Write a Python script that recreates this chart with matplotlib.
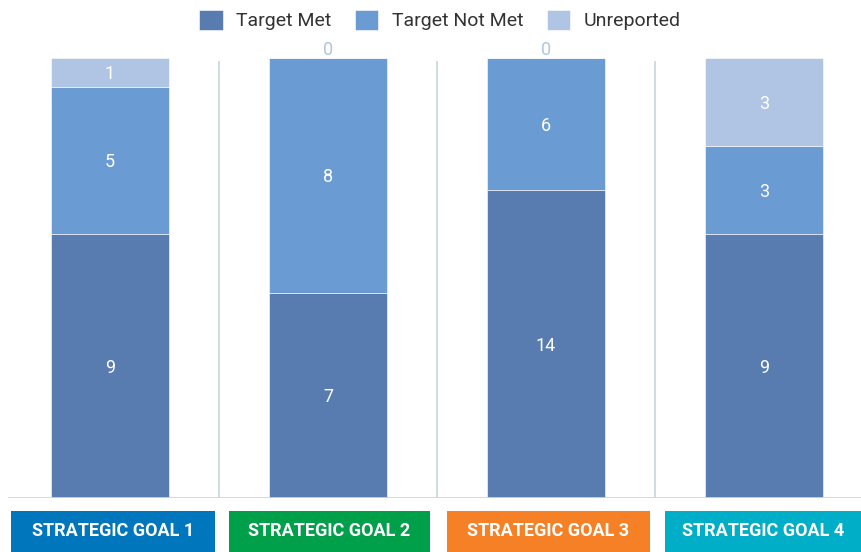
import matplotlib.pyplot as plt
from matplotlib.patches import Rectangle
import numpy as np

goals = ['STRATEGIC GOAL 1', 'STRATEGIC GOAL 2', 'STRATEGIC GOAL 3', 'STRATEGIC GOAL 4']
goal_colors = ['#0077bc', '#00a04b', '#f58026', '#00aec7']
series = ['Target Met', 'Target Not Met', 'Unreported']
series_colors = ['#587cb0', '#6a9bd3', '#b0c4e4']
target_met = [9, 7, 14, 9]
target_not_met = [5, 8, 6, 3]
unreported = [1, 0, 0, 3]

W, H = 862, 552
fig = plt.figure(figsize=(W / 100, H / 100), dpi=100)
plt.rcParams['font.family'] = ['Roboto', 'DejaVu Sans']

# axes placed in pixel terms: baseline at y=498, 100% at y=58
ax = fig.add_axes([8 / W, (H - 498) / H, (862 - 8) / W, 440 / H])

counts = np.array([target_met, target_not_met, unreported], dtype=float)
totals = counts.sum(axis=0)
shares = counts / totals
x = np.arange(len(goals))
bottom = np.zeros(len(goals))
for i, name in enumerate(series):
    ax.bar(x, shares[i], 0.54, bottom=bottom, color=series_colors[i],
           edgecolor='white', linewidth=0.4, label=name)
    for j in range(len(goals)):
        val = int(counts[i, j])
        if val > 0:
            ax.text(x[j], bottom[j] + shares[i, j] / 2 - 0.004, str(val), ha='center',
                    va='center', color='white', fontsize=13)
    bottom += shares[i]

# zero labels just above the bar tops
for j in range(len(goals)):
    if counts[2, j] == 0:
        ax.text(x[j], 0.998, '0', ha='center', va='bottom', color='#b0c4e4', fontsize=13)

ax.set_xlim((8 - 110) / 218, (862 - 110) / 218)
ax.set_ylim(0, 1)
for sep in [0.5, 1.5, 2.5]:
    ax.plot([sep, sep], [0, 436 / 440], color='#c9dadb', linewidth=1.3)
ax.axhline(0, color='#c9dadb', linewidth=2)
for s in ax.spines.values():
    s.set_visible(False)
ax.set_xticks([])
ax.set_yticks([])
ax.patch.set_alpha(0)

leg = fig.legend(loc='center', bbox_to_anchor=(440 / W, 1 - 20 / H), ncol=3, frameon=False,
                 fontsize=14, handlelength=1.2, handleheight=1.2, handletextpad=0.7,
                 columnspacing=1.2)
for t in leg.get_texts():
    t.set_color('#333333')

# goal label boxes
boxes = [(11, 215), (229, 430), (447, 650), (665, 862)]
for (x0, x1), label, c in zip(boxes, goals, goal_colors):
    fig.add_artist(Rectangle((x0 / W, 0), (x1 - x0) / W, (552 - 511) / H,
                             transform=fig.transFigure, color=c, linewidth=0))
    fig.text((x0 + x1) / 2 / W, 21 / H, label, ha='center', va='center', color='white',
             fontsize=13, fontweight='bold')

fig.savefig('out.png', dpi=100)
